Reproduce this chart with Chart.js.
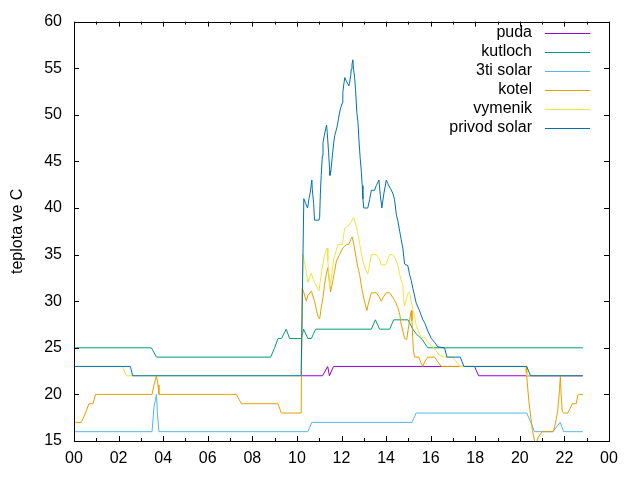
<!DOCTYPE html>
<html>
<head>
<meta charset="utf-8">
<script src="https://cdn.jsdelivr.net/npm/chart.js@4/dist/chart.umd.min.js"></script>
<style>
html, body { margin: 0; padding: 0; background: #fff; }
</style>
</head>
<body>
<canvas id="myChart" width="640" height="480"></canvas>
<script>
// cas v hodinach od pulnoci, teplota ve C
const seriesNames = ['puda', 'kutloch', '3ti solar', 'kotel', 'vymenik', 'privod solar'];
const seriesColors = ['#9400d3', '#009e73', '#56b4e9', '#e69f00', '#f0e442', '#0072b2'];
const hourTicks = ['00', '02', '04', '06', '08', '10', '12', '14', '16', '18', '20', '22', '00'];

const pudaTime = [10.19, 11.15, 11.38, 11.46, 11.64, 17.97, 18.15, 22.83];
const pudaTemp = [22, 22, 23, 22, 23, 23, 22, 22];

const kutlochTime = [0, 3.47, 3.7, 8.82, 9.0, 9.15, 9.31, 9.52, 9.67, 10.2, 10.3, 10.49, 10.65, 10.84,
    13.34, 13.52, 13.71, 14.16, 14.34, 14.98, 15.2, 15.35, 15.62, 15.87, 22.83];
const kutlochTemp = [25, 25, 24, 24, 25, 26, 26, 27, 26, 26, 27, 26, 26, 27,
    27, 28, 27, 27, 28, 28, 27, 26.5, 25.9, 25, 25];

const solar3Time = [0, 3.5, 3.59, 3.7, 3.74, 3.81, 10.49, 10.67, 15.16, 15.35, 20.31, 20.51, 20.66,
    21.48, 21.81, 21.97, 22.83];
const solar3Temp = [16, 16, 18.7, 20, 18, 16, 16, 17, 17, 18, 18, 16.9, 16,
    16, 17, 16, 16];

const kotelTime = [0, 0.33, 0.48, 0.67, 0.85, 0.97, 3.5, 3.59, 3.7, 3.77, 3.81, 7.28, 7.51, 9.15, 9.3,
    10.19, 10.24, 10.3, 10.42, 10.49, 10.65, 10.79, 10.94, 11.02, 11.09, 11.17, 11.24, 11.32, 11.39,
    11.47, 11.51, 11.61, 11.69, 11.77, 11.91, 12.06, 12.22, 12.33, 12.41, 12.48, 12.56, 12.66, 12.74,
    12.81, 12.93, 13.04, 13.14, 13.18, 13.34, 13.56, 13.68, 13.78, 13.89, 14.01, 14.16, 14.3, 14.43,
    14.53, 14.61, 14.68, 14.75, 14.83, 14.93, 14.98, 15.05, 15.13, 15.16, 15.2, 15.23, 15.28, 15.47,
    15.58, 15.65, 15.73, 15.87, 16.17, 16.32, 16.48, 20.28, 20.31, 20.4, 20.47, 20.56, 20.66, 20.72,
    20.85, 21.0, 21.5, 21.55, 21.63, 21.7, 21.74, 21.78, 21.82, 21.85, 21.9, 21.96, 22.15, 22.3,
    22.35, 22.53, 22.6, 22.65, 22.83];
const kotelTemp = [17, 17, 17.8, 19, 19, 20, 20, 21, 22, 21, 20, 20, 19, 19, 18,
    18, 31.4, 31, 30, 30.6, 31.1, 30, 28.4, 28.1, 29.3, 30.4, 31.8, 32.9, 33.6,
    31.8, 31, 32.2, 33.2, 34.3, 35, 35.7, 36.1, 36.1, 36.6, 36.9, 36, 34.6, 33.6,
    32.9, 31.1, 29.9, 29, 29.5, 30.9, 30.9, 30.5, 30, 30.5, 30.9, 30.9, 30.4, 29.9,
    29.3, 28.6, 27.5, 26.8, 26, 25.9, 26.8, 27.9, 29, 27.9, 25.8, 24.7, 24, 24,
    23.3, 23, 23.5, 24, 24, 23.5, 23, 23, 21.9, 19.4, 18, 16.2, 15, 14.7,
    15.5, 16, 16, 16.4, 17.3, 18.3, 19.4, 20.5, 22, 20.1, 18.2, 18, 18, 18.7,
    19, 19, 19.9, 20, 20];

const vymenikTime = [0, 2.17, 2.35, 10.19, 10.27, 10.39, 10.49, 10.64, 10.79, 10.99, 11.09, 11.24,
    11.35, 11.39, 11.47, 11.54, 11.65, 11.77, 11.84, 12.04, 12.14, 12.36, 12.54, 12.69, 12.81, 12.96,
    13.08, 13.18, 13.34, 13.56, 13.71, 13.78, 13.98, 14.08, 14.16, 14.3, 14.43, 14.53, 14.61, 14.68,
    14.75, 14.78, 14.83, 14.98, 15.05, 15.13, 15.2, 15.28, 15.35, 15.47, 15.58, 15.73, 15.87, 16.1,
    16.4, 16.62, 17.0, 17.15, 17.3, 20.21, 20.31, 22.83];
const vymenikTemp = [23, 23, 22, 22, 35, 33.6, 32, 33, 32, 31.1, 32.9, 35,
    35.7, 34.3, 31.6, 32.5, 34.5, 35.5, 36.1, 36.1, 37.8, 38.2, 39, 37.8, 36.2, 34.3,
    33.4, 32.9, 35, 35, 34.5, 33.9, 33.9, 34.5, 35, 35, 34.5, 33.8, 32.9, 32.2,
    31.8, 30.4, 29.5, 30.9, 30.9, 30, 29.1, 28.3, 27.4, 26.7, 26.1, 26.1, 25.6, 25.1,
    24.2, 24, 24, 23.5, 23, 23, 22, 22];

const privodTime = [0, 2.53, 2.63, 10.19, 10.31, 10.39, 10.48, 10.54, 10.6, 10.67, 10.69, 10.75, 10.79,
    10.99, 11.02, 11.05, 11.09, 11.14, 11.17, 11.23, 11.29, 11.33, 11.36, 11.42, 11.47, 11.48, 11.52,
    11.59, 11.65, 11.7, 11.79, 11.86, 11.91, 11.97, 12.04, 12.06, 12.11, 12.15, 12.22, 12.29, 12.33,
    12.36, 12.41, 12.44, 12.47, 12.51, 12.54, 12.59, 12.63, 12.69, 12.74, 12.78, 12.84, 12.89, 12.93,
    12.96, 13.0, 13.18, 13.26, 13.34, 13.48, 13.56, 13.68, 13.74, 13.81, 13.89, 14.01, 14.08, 14.19,
    14.3, 14.38, 14.46, 14.53, 14.61, 14.68, 14.75, 14.83, 14.98, 15.05, 15.13, 15.2, 15.35, 15.5,
    15.65, 15.73, 15.87, 16.03, 16.17, 16.32, 16.62, 16.73, 17.33, 17.49, 20.31, 20.48, 22.83];
const privodTemp = [23, 23, 22, 22, 41, 40.5, 40, 41, 41.7, 43, 42, 40.5, 38.7,
    38.7, 39, 41.4, 43.5, 45.6, 47, 47.8, 48.5, 48.9, 48.1, 46, 44, 43.5, 43.9,
    45.6, 47, 47.8, 48.6, 49.5, 50.2, 50.8, 51.3, 52.4, 53.4, 54, 53.6, 53.3, 53.1,
    53.4, 54.2, 54.9, 55.4, 55.9, 54.9, 54, 52.7, 50.2, 49.2, 47.4, 45.3, 43.9, 42.4,
    41, 40, 40, 40.9, 41.9, 41.9, 42.4, 43, 41.4, 40, 41.4, 43, 42.6, 42.1,
    41.6, 40.9, 39.3, 38.6, 37.5, 36.6, 35.7, 34, 33.8, 32.9, 32.2, 31.4, 29.8, 29,
    28, 27.7, 26.8, 26, 25.6, 25.1, 25, 24, 24, 23, 23, 22, 22];

const seriesTimes = [pudaTime, kutlochTime, solar3Time, kotelTime, vymenikTime, privodTime];
const seriesTemps = [pudaTemp, kutlochTemp, solar3Temp, kotelTemp, vymenikTemp, privodTemp];

Chart.defaults.font.family = '"Liberation Sans", Arial, sans-serif';
Chart.defaults.font.size = 16;
Chart.defaults.color = '#000';

// ramecek, ticky dovnitr a legenda ve stylu gnuplotu
const gnuplotFrame = {
    id: 'gnuplotFrame',
    afterDatasetsDraw(chart) {
        const { ctx, chartArea: a, scales: { x, y } } = chart;
        ctx.save();
        ctx.strokeStyle = '#000';
        ctx.lineWidth = 1;
        ctx.beginPath();
        for (let h = 0; h <= 24; h++) {
            const px = Math.round(x.getPixelForValue(h)) + 0.5;
            const len = h % 2 === 0 ? 5 : 3;
            ctx.moveTo(px, a.bottom); ctx.lineTo(px, a.bottom - len);
            ctx.moveTo(px, a.top); ctx.lineTo(px, a.top + len);
        }
        for (let v = 15; v <= 60; v += 5) {
            const py = Math.round(y.getPixelForValue(v)) + 0.5;
            ctx.moveTo(a.left, py); ctx.lineTo(a.left + 5, py);
            ctx.moveTo(a.right, py); ctx.lineTo(a.right - 5, py);
        }
        ctx.stroke();
        ctx.strokeRect(Math.round(a.left) + 0.5, Math.round(a.top) + 0.5,
            Math.round(a.right - a.left), Math.round(a.bottom - a.top));

        ctx.font = '16px "Liberation Sans", Arial, sans-serif';
        ctx.textAlign = 'right';
        ctx.textBaseline = 'middle';
        seriesNames.forEach((name, i) => {
            const ly = 33 + i * 19;
            ctx.fillStyle = '#000';
            ctx.fillText(name, 532, ly);
            ctx.strokeStyle = seriesColors[i];
            ctx.beginPath();
            ctx.moveTo(545, ly + 0.5);
            ctx.lineTo(590, ly + 0.5);
            ctx.stroke();
        });
        ctx.restore();
    }
};

const datasets = seriesNames.map((name, i) => ({
    label: name,
    data: seriesTimes[i].map((t, k) => ({ x: t, y: seriesTemps[i][k] })),
    borderColor: seriesColors[i],
    backgroundColor: seriesColors[i],
    borderWidth: 1,
    pointRadius: 0,
    tension: 0,
    fill: false,
    order: seriesNames.length - i
}));

new Chart(document.getElementById('myChart'), {
    type: 'line',
    data: { datasets },
    options: {
        responsive: false,
        animation: false,
        layout: { padding: { top: 18, right: 31, left: 0, bottom: 0 } },
        plugins: {
            legend: { display: false },
            tooltip: { enabled: false }
        },
        scales: {
            x: {
                type: 'linear',
                min: 0,
                max: 24,
                grid: { display: false, drawTicks: false },
                border: { display: false },
                ticks: {
                    stepSize: 1,
                    autoSkip: false,
                    maxRotation: 0,
                    padding: 8,
                    callback: v => (v % 2 === 0 ? hourTicks[v / 2] : '')
                },
                afterFit: s => { s.height = 39; }
            },
            y: {
                min: 15,
                max: 60,
                grid: { display: false, drawTicks: false },
                border: { display: false },
                ticks: { stepSize: 5, padding: 12 },
                title: { display: true, text: 'teplota ve C', padding: { top: 8, bottom: 0 } },
                afterFit: s => { s.width = 74; }
            }
        }
    },
    plugins: [gnuplotFrame]
});
</script>
</body>
</html>
